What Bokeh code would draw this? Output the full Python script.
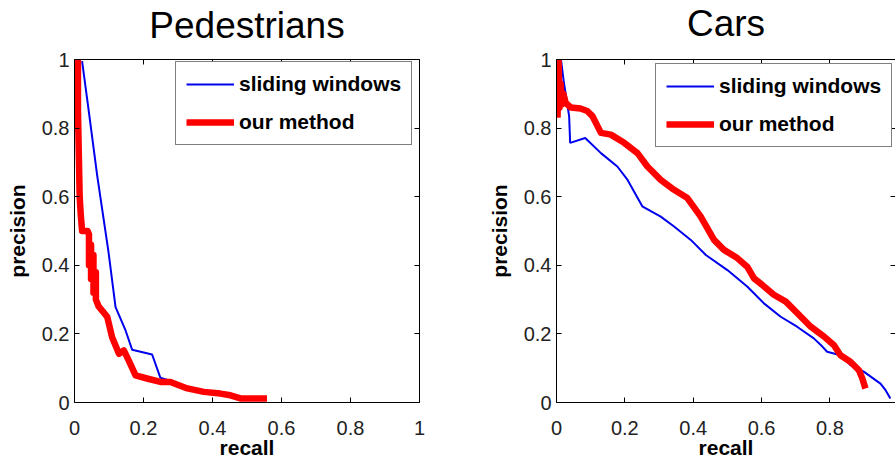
from bokeh.plotting import figure
from bokeh.layouts import row
from bokeh.models import (LinearAxis, FixedTicker, Legend, LegendItem, Range1d,
                          CustomJSTickFormatter)
from bokeh.embed import file_html
from bokeh.resources import INLINE

# ---------------- data ----------------
tick_values = [0, 0.2, 0.4, 0.6, 0.8, 1]
tick_labels = ["0", "0.2", "0.4", "0.6", "0.8", "1"]

series_names = ["sliding windows", "our method"]

# Pedestrians
ped_sw_recall = [0.022, 0.040, 0.066, 0.098, 0.119, 0.148, 0.167, 0.225, 0.249, 0.27]
ped_sw_precision = [0.995, 0.86, 0.66, 0.443, 0.278, 0.21, 0.154, 0.14, 0.072, 0.066]

ped_om_recall = [0.010, 0.010, 0.013, 0.015, 0.018, 0.022, 0.038, 0.042, 0.042, 0.048, 0.048,
                 0.055, 0.055, 0.062, 0.062, 0.070, 0.080, 0.095, 0.109, 0.129, 0.143,
                 0.157, 0.177, 0.21, 0.249, 0.278, 0.327, 0.375, 0.423, 0.452, 0.481, 0.558]
ped_om_precision = [1.0, 0.85, 0.70, 0.60, 0.55, 0.50, 0.50, 0.49, 0.40, 0.46, 0.36,
                    0.43, 0.32, 0.38, 0.30, 0.28, 0.268, 0.249, 0.19, 0.142, 0.152,
                    0.123, 0.079, 0.07, 0.06, 0.06, 0.041, 0.031, 0.026, 0.021, 0.012, 0.012]

# Cars
car_sw_recall = [0.013, 0.022, 0.030, 0.037, 0.040, 0.084, 0.13, 0.178, 0.208, 0.251, 0.305,
                 0.344, 0.393, 0.437, 0.50, 0.558, 0.607, 0.656, 0.704, 0.753, 0.778,
                 0.792, 0.831, 0.86, 0.899, 0.948, 0.963, 0.977]
car_sw_precision = [1.0, 0.93, 0.88, 0.834, 0.757, 0.771, 0.727, 0.688, 0.649, 0.572, 0.542,
                    0.513, 0.474, 0.43, 0.386, 0.338, 0.289, 0.25, 0.221, 0.187, 0.163,
                    0.148, 0.138, 0.109, 0.09, 0.055, 0.036, 0.012]

car_om_recall = [0.003, 0.006, 0.009, 0.012, 0.016, 0.020, 0.027, 0.042, 0.070, 0.090, 0.105,
                 0.13, 0.159, 0.198, 0.237, 0.266, 0.305, 0.344, 0.383, 0.422, 0.461, 0.49,
                 0.529, 0.558, 0.578, 0.602, 0.636, 0.671, 0.705, 0.744, 0.783, 0.812,
                 0.831, 0.86, 0.885, 0.895, 0.904]
car_om_precision = [0.83, 1.0, 0.86, 0.93, 0.87, 0.90, 0.873, 0.86, 0.857, 0.85, 0.835,
                    0.786, 0.781, 0.757, 0.727, 0.688, 0.649, 0.62, 0.596, 0.542, 0.474, 0.445,
                    0.421, 0.396, 0.362, 0.343, 0.314, 0.294, 0.26, 0.221, 0.192, 0.167,
                    0.138, 0.119, 0.094, 0.07, 0.041]

FONT = "Liberation Sans"


def style_axis(ax, show_labels=True, show_line=True):
    ax.ticker = FixedTicker(ticks=tick_values, minor_ticks=[])
    ax.major_tick_in = 5
    ax.major_tick_out = 0
    ax.minor_tick_in = 0
    ax.minor_tick_out = 0
    ax.major_tick_line_color = "black"
    ax.axis_line_color = "black" if show_line else None
    ax.axis_line_width = 1
    ax.major_label_text_font = FONT
    ax.major_label_text_color = "#222222"
    ax.major_label_text_font_size = "20px"
    if show_labels:
        ax.major_label_overrides = dict(zip(tick_values, tick_labels))
    else:
        ax.formatter = CustomJSTickFormatter(code="return ''")
        ax.major_label_standoff = 0


def make_panel(title, sw_x, sw_y, om_x, om_y, width, x_end, mb_left, mb_right,
               top_gap, legend_loc, right_line=True):
    p = figure(width=width, height=464, x_range=Range1d(0, x_end), y_range=Range1d(0, 1),
               output_backend="svg", toolbar_location=None,
               min_border_left=mb_left, min_border_right=mb_right,
               min_border_top=0, min_border_bottom=62, title=title)
    p.grid.visible = False
    p.outline_line_color = None
    p.background_fill_color = "white"
    p.border_fill_color = "white"

    p.title.text_font = FONT
    p.title.text_font_size = "37px"
    p.title.text_font_style = "normal"
    p.title.align = "center"
    p.title.text_color = "black"
    p.title.standoff = 0

    style_axis(p.xaxis[0])
    style_axis(p.yaxis[0])
    p.xaxis[0].major_label_standoff = 18
    p.yaxis[0].major_label_standoff = 5
    p.xaxis[0].axis_label = "recall"
    p.yaxis[0].axis_label = "precision"
    for ax in (p.xaxis[0], p.yaxis[0]):
        ax.axis_label_text_font = FONT
        ax.axis_label_text_font_size = "21px"
        ax.axis_label_text_font_style = "bold"
        ax.axis_label_text_color = "black"
    p.xaxis[0].axis_label_standoff = -2
    p.yaxis[0].axis_label_standoff = 10

    # visible top axis (box edge with inward ticks)
    top = LinearAxis()
    style_axis(top, show_labels=False)
    p.add_layout(top, "above")
    # invisible spacer axis: only reserves room between title and box
    spacer = LinearAxis()
    style_axis(spacer, show_labels=False, show_line=False)
    spacer.major_tick_in = 0
    spacer.major_tick_out = top_gap
    spacer.major_tick_line_color = None
    p.add_layout(spacer, "above")

    right = LinearAxis()
    style_axis(right, show_labels=False, show_line=right_line)
    p.add_layout(right, "right")

    rb = p.line(sw_x, sw_y, line_color="#0000ee", line_width=2)
    rr = p.line(om_x, om_y, line_color="#ff0000", line_width=6.5, line_join="round")

    legend = Legend(items=[LegendItem(label=series_names[0], renderers=[rb]),
                           LegendItem(label=series_names[1], renderers=[rr])],
                    location=legend_loc)
    legend.border_line_color = "black"
    legend.border_line_width = 1
    legend.background_fill_color = "white"
    legend.background_fill_alpha = 1
    legend.label_text_font = FONT
    legend.label_text_font_size = "21px"
    legend.label_text_font_style = "bold"
    legend.label_text_color = "black"
    legend.glyph_width = 48
    legend.glyph_height = 20
    legend.label_height = 20
    legend.label_standoff = 5
    legend.padding = 10
    legend.spacing = 14
    legend.margin = 0
    p.add_layout(legend)
    return p


p1 = make_panel("Pedestrians", ped_sw_recall, ped_sw_precision, ped_om_recall, ped_om_precision,
                width=480, x_end=1, mb_left=74, mb_right=61, top_gap=14,
                legend_loc=(101, 257))
p2 = make_panel("Cars", car_sw_recall, car_sw_precision, car_om_recall, car_om_precision,
                width=415, x_end=0.992, mb_left=76, mb_right=0, top_gap=16,
                legend_loc=(99, 255), right_line=False)

layout = row(p1, p2)
open("out.html", "w").write(file_html(layout, INLINE))
